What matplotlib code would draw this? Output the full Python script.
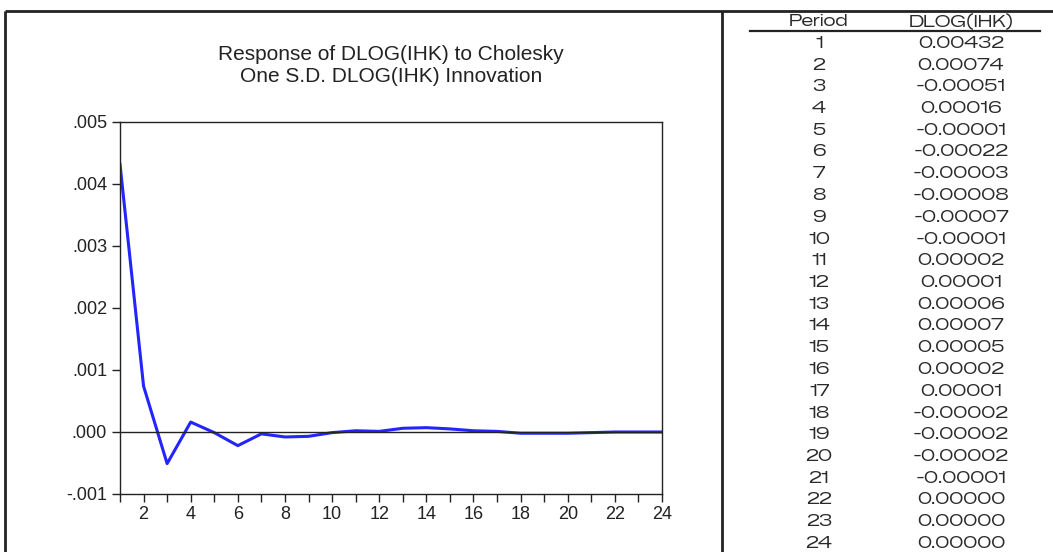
import matplotlib
matplotlib.use("Agg")
import matplotlib.pyplot as plt
from matplotlib.ticker import FuncFormatter, MultipleLocator

# ---- data ----
periods = list(range(1, 25))
dlog_ihk = [0.00432, 0.00074, -0.00051, 0.00016, -0.00001, -0.00022, -0.00003,
            -0.00008, -0.00007, -0.00001, 0.00002, 0.00001, 0.00006, 0.00007,
            0.00005, 0.00002, 0.00001, -0.00002, -0.00002, -0.00002, -0.00001,
            0.00000, 0.00000, 0.00000]
table_labels = ["%.5f" % v for v in dlog_ihk]
header = ["Period", "DLOG(IHK)"]
title_lines = ["Response of DLOG(IHK) to Cholesky", "One S.D. DLOG(IHK) Innovation"]
yticks = [-0.001, 0.000, 0.001, 0.002, 0.003, 0.004, 0.005]

W, H = 1053, 552
fig = plt.figure(figsize=(W / 100, H / 100), dpi=100)
fig.patch.set_facecolor("white")

# layout overlay in pixel coordinates
lay = fig.add_axes([0, 0, 1, 1])
lay.set_xlim(0, W)
lay.set_ylim(H, 0)
lay.axis("off")
lay.set_zorder(0)

frame_kw = dict(color="#222222", lw=2, solid_capstyle="butt")
lay.plot([5, W], [11, 11], **frame_kw)
lay.plot([5, 5], [11, H], **frame_kw)
lay.plot([722, 722], [11, H], **frame_kw)
lay.plot([750, 1040], [31, 31], color="#222222", lw=1.6)

# table
row0 = 21.5
dy = 21.75
col_x = [819, 961]
tfont = dict(family=["Zalando Sans Expanded", "DejaVu Sans"], fontsize=11.8,
             color="#2a2a2a", ha="center", va="center")
lay.text(col_x[0], row0, header[0], **tfont)
lay.text(col_x[1], row0, header[1], **tfont)
for i, (p, lab) in enumerate(zip(periods, table_labels)):
    y = row0 + dy * (i + 1)
    lay.text(col_x[0], y, str(p), **tfont)
    lay.text(col_x[1], y, lab, **tfont)

# title
for k, line in enumerate(title_lines):
    lay.text(391, 54 + 22.5 * k, line, family=["Liberation Sans", "DejaVu Sans"],
             fontsize=15, color="#222222", ha="center", va="center")

# chart axes
left, right, top, bottom = 120, 662, 122, 494
ax = fig.add_axes([left / W, 1 - bottom / H, (right - left) / W, (bottom - top) / H])
ax.set_zorder(1)
ax.patch.set_alpha(0)
ax.plot(periods, dlog_ihk, color="#2424ff", lw=2.2)
ax.axhline(0, color="#222222", lw=1)
ax.set_xlim(1, 24)
ax.set_ylim(-0.001, 0.005)
ax.set_yticks(yticks)
ax.yaxis.set_major_formatter(FuncFormatter(
    lambda v, p: ("%.3f" % v).replace("0.", ".", 1) if abs(v) > 1e-12 else ".000"))
ax.xaxis.set_major_locator(MultipleLocator(2))
ax.xaxis.set_minor_locator(MultipleLocator(1))
for s in ax.spines.values():
    s.set_color("#222222")
    s.set_linewidth(1)
ax.tick_params(axis="both", which="both", direction="out", length=5.8, width=1,
               color="#222222", labelcolor="#222222", labelsize=13)
ax.tick_params(axis="y", pad=3.5)
ax.tick_params(axis="x", pad=3)
for lab in ax.get_xticklabels() + ax.get_yticklabels():
    lab.set_family(["Liberation Sans", "DejaVu Sans"])

fig.savefig("out.png", dpi=100, facecolor="white")
